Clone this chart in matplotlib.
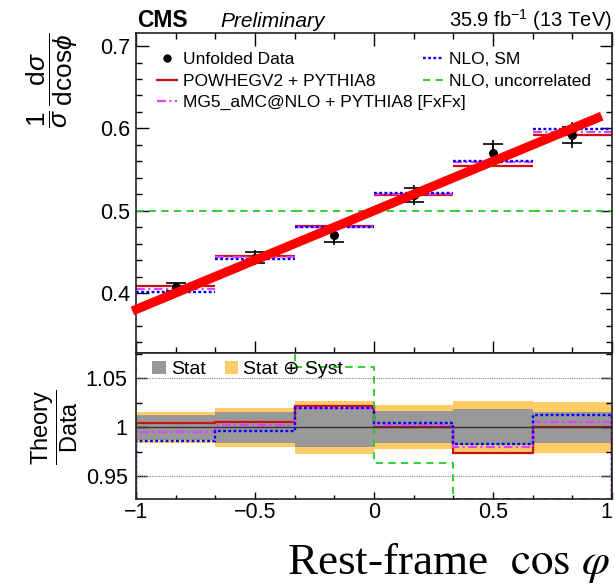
import numpy as np
import matplotlib
matplotlib.use("Agg")
import matplotlib.pyplot as plt
from matplotlib.lines import Line2D
from matplotlib.patches import Patch
from matplotlib.ticker import MultipleLocator

plt.rcParams['font.family'] = ['Liberation Sans', 'DejaVu Sans']
plt.rcParams['mathtext.fontset'] = 'custom'
plt.rcParams['mathtext.rm'] = 'Liberation Sans'
plt.rcParams['mathtext.it'] = 'Liberation Sans:italic'
plt.rcParams['mathtext.bf'] = 'Liberation Sans:bold'
plt.rcParams['mathtext.sf'] = 'Liberation Sans'

# binning in rest-frame cos(phi)
bin_edges = [-1, -2/3, -1/3, 0, 1/3, 2/3, 1]

# unfolded data (normalised) with relative stat and stat+syst uncertainties
data = [0.407, 0.443, 0.471, 0.519, 0.570, 0.592]
stat_rel = [0.0125, 0.016, 0.020, 0.0165, 0.0185, 0.016]
tot_rel = [0.016, 0.020, 0.027, 0.0225, 0.027, 0.026]

# predictions
powheg = [0.4086, 0.4452, 0.4814, 0.5194, 0.5548, 0.5924]
mg5 = [0.4052, 0.4441, 0.4804, 0.5202, 0.5586, 0.5954]
nlo_sm = [0.4013, 0.4413, 0.4802, 0.5210, 0.5601, 0.5995]
nlo_unc = [0.5, 0.5, 0.5, 0.5, 0.5, 0.5]

# straight line 1/2 (1 - D cos phi)
D_fit = -0.24
fit_range = [-1.015, 0.957]

c_red = '#cc1111'
c_mag = '#dd44ff'
c_blue = '#0000ff'
c_green = '#22cc22'
c_stat = '#999999'
c_syst = '#ffcc66'

ls_dot = (0, (1.2, 1.0))
ls_dashdot = (0, (4, 1.5, 1, 1.5))
ls_dash = (0, (4, 3))

edges = np.array(bin_edges)
centers = 0.5 * (edges[:-1] + edges[1:])
data = np.array(data)
stat_abs = data * np.array(stat_rel)
tot_abs = data * np.array(tot_rel)

fig = plt.figure(figsize=(6.15, 5.87), dpi=100)
ax = fig.add_axes([0.2211, 0.3978, 0.7740, 0.5460])
ax2 = fig.add_axes([0.2211, 0.1491, 0.7740, 0.2487], sharex=ax)

# ---- upper panel
ax.hlines(nlo_unc, edges[:-1], edges[1:], colors=c_green, lw=1.3, linestyles=[ls_dash])
ax.hlines(powheg, edges[:-1], edges[1:], colors=c_red, lw=1.6)
ax.hlines(mg5, edges[:-1], edges[1:], colors=c_mag, lw=1.6, linestyles=[ls_dashdot])
ax.hlines(nlo_sm, edges[:-1], edges[1:], colors=c_blue, lw=1.7, linestyles=[ls_dot])

ax.errorbar(centers, data, yerr=tot_abs, fmt='none', ecolor='k', elinewidth=1.2, capsize=0)
ax.errorbar(centers, data, yerr=stat_abs, fmt='o', color='k', ms=5.5,
            elinewidth=1.2, capsize=7, capthick=1.2)

xf = np.array(fit_range)
ax.plot(xf, 0.5 * (1 - D_fit * xf), color='#ff0000', lw=6.6,
        solid_capstyle='butt', clip_on=False, zorder=10)

ax.set_xlim(-1, 1)
ax.set_ylim(0.3265, 0.7159)
ax.yaxis.set_major_locator(MultipleLocator(0.1))
ax.yaxis.set_minor_locator(MultipleLocator(0.02))
ax.xaxis.set_major_locator(MultipleLocator(0.5))
ax.xaxis.set_minor_locator(MultipleLocator(1/6))
ax.tick_params(which='both', direction='in', top=True, right=True,
               labelbottom=False, labelsize=15.5, pad=4)
ax.tick_params(which='major', length=9, width=1)
ax.tick_params(which='minor', length=4.5, width=1)

h_data = Line2D([], [], marker='o', ls='none', color='k', ms=5)
h_pow = Line2D([], [], color=c_red, lw=1.6)
h_mg5 = Line2D([], [], color=c_mag, lw=1.6, ls=ls_dashdot)
h_sm = Line2D([], [], color=c_blue, lw=1.7, ls=ls_dot)
h_unc = Line2D([], [], color=c_green, lw=1.3, ls=ls_dash)

leg_kw = dict(loc='upper left', frameon=False, fontsize=12.5, handlelength=1.15,
              handletextpad=0.35, labelspacing=0.36, borderpad=0, borderaxespad=0)
leg1 = ax.legend([h_data, h_pow, h_mg5],
                 ['Unfolded Data', 'POWHEGV2 + PYTHIA8', 'MG5_aMC@NLO + PYTHIA8 [FxFx]'],
                 bbox_to_anchor=(0.044, 0.94), **leg_kw)
ax.add_artist(leg1)
ax.legend([h_sm, h_unc], ['NLO, SM', 'NLO, uncorrelated'],
          bbox_to_anchor=(0.603, 0.94), **leg_kw)

# ---- ratio panel
ax2.stairs(1 + np.array(tot_rel), edges, baseline=1 - np.array(tot_rel),
           fill=True, color=c_syst, lw=0)
ax2.stairs(1 + np.array(stat_rel), edges, baseline=1 - np.array(stat_rel),
           fill=True, color=c_stat, lw=0)
ax2.axhline(1.0, color='#333333', lw=1)
for yg in (0.95, 1.05):
    ax2.axhline(yg, color='#888888', lw=0.8, ls=(0, (1, 1)))

ylo, yhi = 0.9263, 1.0753
ax2.stairs(np.array(powheg) / data, edges, color=c_red, lw=1.6)
ax2.stairs(np.array(mg5) / data, edges, color=c_mag, lw=1.6, ls=ls_dashdot)
ax2.stairs(np.array(nlo_sm) / data, edges, color=c_blue, lw=1.7, ls=ls_dot)
# bins below the frame are drawn on its lower edge
ax2.stairs(np.maximum(np.array(nlo_unc) / data, ylo + 0.0008), edges, color=c_green,
           lw=1.3, ls=ls_dash)

ax2.set_ylim(ylo, yhi)
ax2.yaxis.set_minor_locator(MultipleLocator(0.025))
ax2.set_yticks([0.95, 1.0, 1.05])
ax2.set_yticklabels(['0.95', '1', '1.05'])
ax2.tick_params(which='both', direction='in', top=False, right=True, labelsize=15.5)
ax2.tick_params(axis='x', which='major', length=5, width=1, pad=2)
ax2.tick_params(axis='x', which='minor', length=3, width=1)
ax2.tick_params(axis='y', which='major', length=8, width=1, pad=6)
ax2.tick_params(axis='y', which='minor', length=4, width=1)
ax2.set_xticks([-1, -0.5, 0, 0.5, 1])
ax2.set_xticklabels(['\u22121', '\u22120.5', '0', '0.5', '1'])
ax2.get_xticklabels()[-1].set_ha('right')

ax2.legend([Patch(facecolor=c_stat), Patch(facecolor=c_syst)],
           ['Stat', 'Stat \u2295 Syst'], loc='upper left', ncol=2,
           bbox_to_anchor=(0.034, 0.95), frameon=False, fontsize=14,
           handlelength=0.7, handleheight=0.7, handletextpad=0.25,
           columnspacing=1.0, borderpad=0, borderaxespad=0)

for a in (ax, ax2):
    for sp in a.spines.values():
        sp.set_linewidth(1.2)
        sp.set_color('#222222')

# ---- labels
fig.text(0.2228, 0.954, 'CMS', fontsize=16.5, fontweight='bold')
fig.text(0.3577, 0.954, 'Preliminary', fontsize=15, style='italic')
fig.text(0.995, 0.954, r'35.9 fb$^{-1}$ (13 TeV)', fontsize=14.5, ha='right')

fig.text(0.0845, 0.9438, r'$\dfrac{1}{\sigma}\,\dfrac{\mathrm{d}\sigma}{\mathrm{dcos}\phi}$',
         rotation=90, ha='center', va='top', fontsize=19)
fig.text(0.0894, 0.2726, r'$\dfrac{\mathrm{Theory}}{\mathrm{Data}}$',
         rotation=90, ha='center', va='center', fontsize=17)
fig.text(0.992, 0.0215, r'Rest-frame  $\cos\,\varphi$', ha='right', va='baseline',
         fontsize=32.5, family='Liberation Serif', math_fontfamily='stix')

fig.savefig('out.png', dpi=100)
